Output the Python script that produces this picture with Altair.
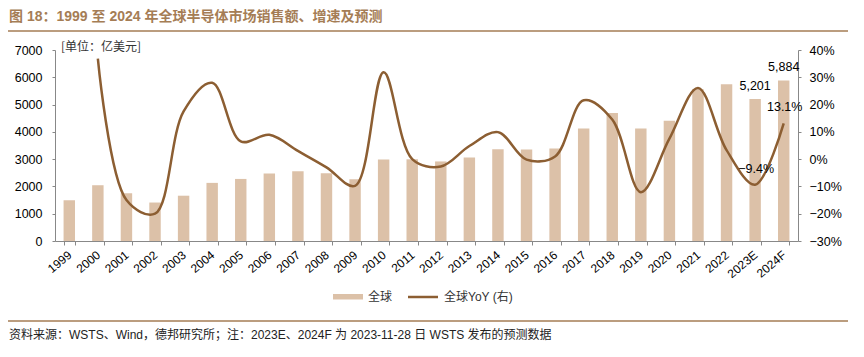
import altair as alt
import pandas as pd

years = ["1999", "2000", "2001", "2002", "2003", "2004", "2005", "2006", "2007",
         "2008", "2009", "2010", "2011", "2012", "2013", "2014", "2015", "2016",
         "2017", "2018", "2019", "2020", "2021", "2022", "2023E", "2024F"]
sales = [1494, 2044, 1750, 1410, 1660, 2130, 2275, 2477, 2556, 2486, 2263, 2983,
         2995, 2916, 3056, 3358, 3352, 3389, 4122, 4688, 4123, 4404, 5559, 5741,
         5201, 5884]
yoy_pct = [None, 36.8, -15.0, -20.0, 17.5, 28.0, 6.5, 8.9, 3.0, -3.0, -9.8, 31.8,
           0.0, -2.7, 4.8, 9.9, -0.2, 1.0, 21.6, 14.5, -12.1, 7.5, 26.1, 3.3,
           -9.4, 13.1]
label_years = ["2023E", "2024F"]

title_text = "图 18：1999 至 2024 年全球半导体市场销售额、增速及预测"
unit_text = "[单位：亿美元]"
source_text = "资料来源：WSTS、Wind，德邦研究所；注：2023E、2024F 为 2023-11-28 日 WSTS 发布的预测数据"
legend_bar = "全球"
legend_line = "全球YoY (右)"

FONT = "Liberation Sans, Noto Sans CJK SC"
CJK = "Noto Sans CJK SC"
BAR_C = "#dcc1a8"
LINE_C = "#8c5e32"
TITLE_C = "#a57d55"
AX_C = "#888888"

df = pd.DataFrame({
    "year": years,
    "sales": sales,
    "yoy": [None if v is None else v / 100 for v in yoy_pct],
})

x_enc = alt.X("year:N", sort=years, title=None,
              scale=alt.Scale(paddingInner=0.6, paddingOuter=0.3),
              axis=alt.Axis(labelAngle=-40, labelAlign="right", labelBaseline="top",
                            labelOffset=-3,
                            tickBand="extent", tickSize=4, labelPadding=4,
                            domainColor=AX_C, tickColor=AX_C, labelFont=FONT,
                            labelFontSize=12, labelColor="#000"))
y_left = alt.Y("sales:Q", title=None,
               scale=alt.Scale(domain=[0, 7000], nice=False, zero=True),
               axis=alt.Axis(values=list(range(0, 7001, 1000)), format="d", grid=False,
                             tickSize=3, labelPadding=10, domainColor=AX_C,
                             tickColor=AX_C, labelFont=FONT, labelFontSize=12.5,
                             labelColor="#000"))
y_right = alt.Y("yoy:Q", title=None,
                scale=alt.Scale(domain=[-0.3, 0.4], nice=False, zero=False),
                axis=alt.Axis(orient="right", values=[-0.3, -0.2, -0.1, 0, 0.1, 0.2, 0.3, 0.4],
                              format=".0%", grid=False, tickSize=3, labelPadding=8,
                              domainColor=AX_C, tickColor=AX_C, labelFont=FONT,
                              labelFontSize=12.5, labelColor="#000"))

base = alt.Chart(df)
bars = base.mark_bar(color=BAR_C).encode(x=x_enc, y=y_left)
bar_labels = base.transform_filter(
    alt.FieldOneOfPredicate(field="year", oneOf=label_years)
).mark_text(dy=-13, font=FONT, fontSize=12.5, color="#000").encode(
    x=x_enc, y=y_left, text=alt.Text("sales:Q", format=","))
left = alt.layer(bars, bar_labels)

line = base.transform_filter("datum.yoy != null").mark_line(
    color=LINE_C, strokeWidth=2.5, interpolate="catmull-rom").encode(x=x_enc, y=y_right)
line_labels = base.transform_filter(
    alt.FieldOneOfPredicate(field="year", oneOf=label_years)
).mark_text(dy=-16, dx=1, font=FONT, fontSize=12.5, color="#000").encode(
    x=x_enc, y=y_right, text=alt.Text("yoy:Q", format=".1%"))
right = alt.layer(line, line_labels)

def txt(s, x, y, size=12, color="#333", font=CJK, weight="normal", align="left"):
    return alt.Chart(pd.DataFrame({"t": [s]})).mark_text(
        align=align, baseline="middle", font=font, fontSize=size, color=color,
        fontWeight=weight).encode(text="t:N", x=alt.value(x), y=alt.value(y))

one = pd.DataFrame({"a": [0]})
title_rule = alt.Chart(one).mark_rule(color=TITLE_C, strokeWidth=1.5).encode(
    x=alt.value(-47), x2=alt.value(801), y=alt.value(-19))
source_rule = alt.Chart(one).mark_rule(color=TITLE_C, strokeWidth=1.5).encode(
    x=alt.value(-47), x2=alt.value(801), y=alt.value(271))
leg_rect = alt.Chart(one).mark_rect(color=BAR_C).encode(
    x=alt.value(278), x2=alt.value(308), y=alt.value(244), y2=alt.value(249.5))
leg_line = alt.Chart(one).mark_rule(color=LINE_C, strokeWidth=2.5).encode(
    x=alt.value(353), x2=alt.value(383), y=alt.value(247))

deco = [
    txt(title_text, -46, -33, size=14, color=TITLE_C, font="Liberation Sans, Noto Sans CJK SC", weight="bold"),
    title_rule,
    txt(unit_text, 6, -3, size=12, color="#333"),
    leg_rect, txt(legend_bar, 313, 247, size=12, color="#333"),
    leg_line, txt(legend_line, 389, 247, size=12, color="#333", font=FONT),
    source_rule,
    txt(source_text, -46, 285, size=12, color="#222", font=FONT),
]

chart = alt.layer(left, right, *deco).resolve_scale(y="independent").properties(
    width=743, height=191,
    padding={"left": 47, "top": 42, "right": 50, "bottom": 100},
    autosize=alt.AutoSizeParams(type="none"),
).configure_view(stroke=None)

chart.save("out.html", embed_options={"renderer": "svg", "actions": False})
